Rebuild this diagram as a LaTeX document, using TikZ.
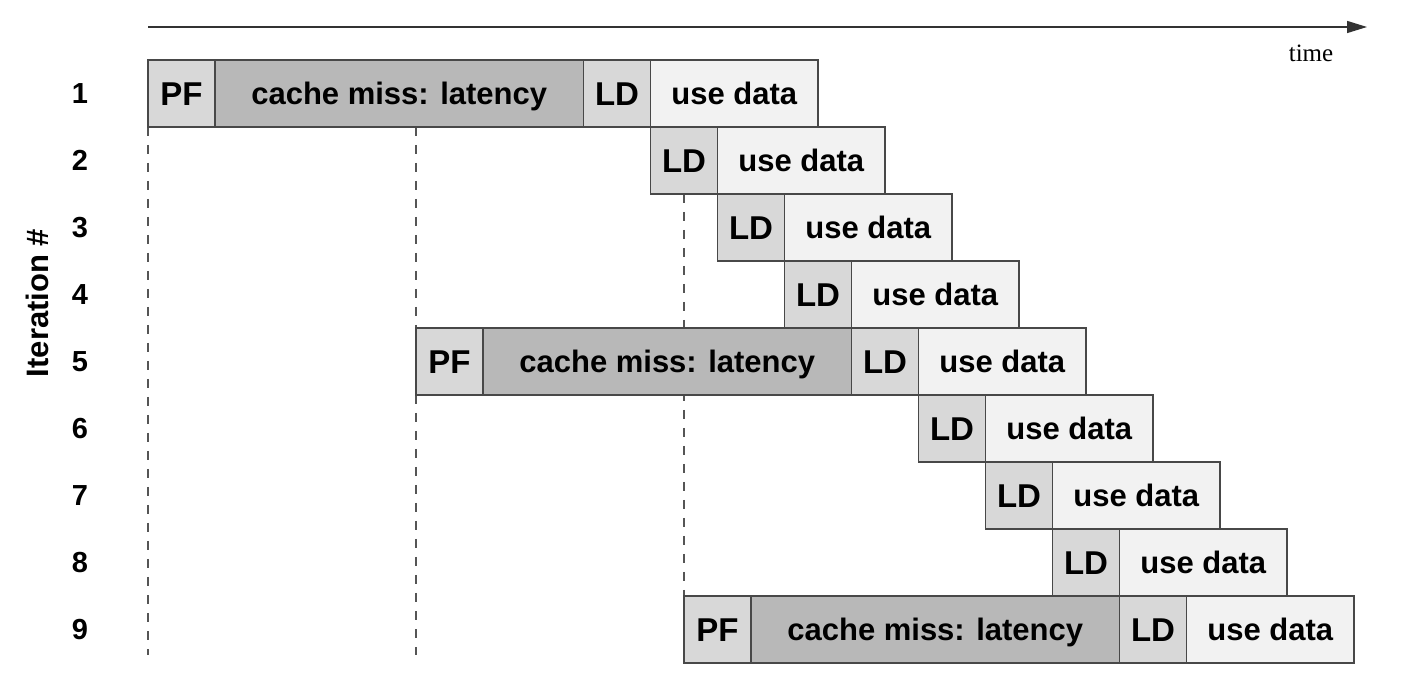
\documentclass[tikz,border=0pt]{standalone}
\usepackage{fontspec}
\setmainfont{Liberation Serif}
\setsansfont{Liberation Sans}
\usetikzlibrary{arrows.meta}
\pgfdeclarelayer{bg}
\pgfsetlayers{bg,main}
\definecolor{pfc}{RGB}{216,216,216}
\definecolor{cachec}{RGB}{184,184,184}
\definecolor{usec}{RGB}{242,242,242}
\definecolor{edgec}{RGB}{72,72,72}
\definecolor{guidec}{RGB}{85,85,85}
\begin{document}
\begin{tikzpicture}[x=0.5pt,y=-0.5pt,
  box/.style={draw=edgec, line width=0.7pt, inner sep=0pt, outer sep=0pt,
    minimum height=33.5pt, anchor=north west,
    font=\sffamily\bfseries\fontsize{15.5}{18}\selectfont,
    text height=11.2pt, text depth=0pt},
  bigbox/.style={box, font=\sffamily\bfseries\fontsize{16.5}{19}\selectfont,
    text height=11.9pt},
  pfbox/.style={bigbox, fill=pfc, minimum width=33.5pt},
  cachebox/.style={box, fill=cachec, minimum width=184.25pt},
  ldbox/.style={bigbox, fill=pfc, minimum width=33.5pt},
  usebox/.style={box, fill=usec, minimum width=83.75pt},
  rowlbl/.style={font=\sffamily\bfseries\fontsize{14.5}{17}\selectfont, inner sep=0pt},
  itlbl/.style={font=\sffamily\bfseries\fontsize{15.5}{18}\selectfont, inner sep=0pt},
  guide/.style={draw=guidec, line width=0.6pt, dash pattern=on 4.5pt off 4.5pt},
  timeaxis/.style={draw=black!80, line width=0.7pt, -{Triangle[length=10pt,width=6pt]}}]
\useasboundingbox (0,0) rectangle (1412,688);

% time axis
\coordinate (t0) at (148,27);
\coordinate (t1) at (1367,27);
\draw[timeaxis] (t0) -- (t1);
\node[font=\rmfamily\fontsize{12.5}{15}\selectfont] (tl) at (1311,53) {time};

% row 1
\node[pfbox] (pf1) at (148,60) {PF};
\node[cachebox] (cm1) at (pf1.north east) {cache miss: latency};
\node[ldbox] (ld1) at (cm1.north east) {LD};
\node[usebox] (ud1) at (ld1.north east) {use data};
% rows 2-4
\node[ldbox] (ld2) at (ld1.south east) {LD};
\node[usebox] (ud2) at (ld2.north east) {use data};
\node[ldbox] (ld3) at (ld2.south east) {LD};
\node[usebox] (ud3) at (ld3.north east) {use data};
\node[ldbox] (ld4) at (ld3.south east) {LD};
\node[usebox] (ud4) at (ld4.north east) {use data};
% row 5
\node[pfbox] (pf5) at (416,328) {PF};
\node[cachebox] (cm5) at (pf5.north east) {cache miss: latency};
\node[ldbox] (ld5) at (cm5.north east) {LD};
\node[usebox] (ud5) at (ld5.north east) {use data};
% rows 6-8
\node[ldbox] (ld6) at (ld5.south east) {LD};
\node[usebox] (ud6) at (ld6.north east) {use data};
\node[ldbox] (ld7) at (ld6.south east) {LD};
\node[usebox] (ud7) at (ld7.north east) {use data};
\node[ldbox] (ld8) at (ld7.south east) {LD};
\node[usebox] (ud8) at (ld8.north east) {use data};
% row 9
\node[pfbox] (pf9) at (684,596) {PF};
\node[cachebox] (cm9) at (pf9.north east) {cache miss: latency};
\node[ldbox] (ld9) at (cm9.north east) {LD};
\node[usebox] (ud9) at (ld9.north east) {use data};

% guide lines behind the boxes
\coordinate (gend) at (148,655);
\begin{pgfonlayer}{bg}
\draw[guide] (pf1.south west) -- (gend);
\draw[guide] (pf1.south west -| pf5.north west) -- (pf5.north west);
\draw[guide] (pf5.south west) -- (pf5.south west |- gend);
\draw[guide] (ld2.south -| pf9.north west) -- (pf9.north west);
\end{pgfonlayer}

% iteration labels
\foreach \i in {1,...,9} {
  \node[rowlbl] (r\i) at (80, {93.5+67*(\i-1)}) {\i};
}
\node[itlbl, rotate=90] (itl) at (37,303) {Iteration \#};
\end{tikzpicture}
\end{document}
